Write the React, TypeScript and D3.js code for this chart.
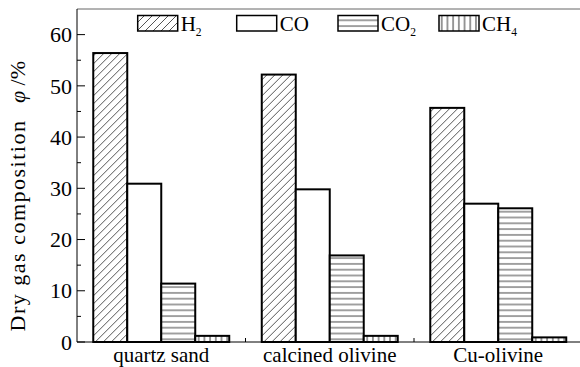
import React from "react";
import * as d3 from "d3";

const categories = ["quartz sand", "calcined olivine", "Cu-olivine"];
const seriesNames = ["H2", "CO", "CO2", "CH4"];
const h2 = [56.4, 52.2, 45.7];
const co = [30.9, 29.8, 27.0];
const co2 = [11.4, 16.9, 26.1];
const ch4 = [1.2, 1.2, 0.9];
const yTicks = [0, 10, 20, 30, 40, 50, 60];
const yMinorTicks = [5, 15, 25, 35, 45, 55];

const series = [h2, co, co2, ch4];
const fills = ["url(#diag)", "#fff", "url(#horiz)", "url(#vert)"];
const font = "Liberation Serif";

const width = 580;
const height = 367;
const left = 77;
const top = 9;
const bottom = 342;
const right = 582.5;

const App = () => {
  const x = d3.scaleBand<string>()
    .domain(categories)
    .range([left, right])
    .paddingInner(0.193)
    .paddingOuter(0.0965);

  const xInner = d3.scaleBand<string>()
    .domain(seriesNames)
    .range([0, x.bandwidth()]);

  const y = d3.scaleLinear().domain([0, 65]).range([bottom, top]);

  const gap = x.step() - x.bandwidth();
  const groupTicks = categories.slice(1).map(c => (x(c) as number) - gap / 2);

  const legendX = [137.7, 236.7, 338, 439];
  const ts = { fontFamily: font };

  // H2 -> H + subscript 2
  const label = (name: string, fs: number) => {
    const m = name.match(/^([A-Z]+?)(\d)?$/);
    const base = m ? m[1] : name;
    const sub = m && m[2];
    return (
      <>
        {base}
        {sub && <tspan fontSize={fs * 0.55} dy={5}>{sub}</tspan>}
      </>
    );
  };

  return (
    <svg width={width} height={height} style={{ position: "absolute", left: 0, top: 0 }}>
      <defs>
        <pattern id="diag" patternUnits="userSpaceOnUse" width={8} height={8}>
          <rect width={8} height={8} fill="#fff" />
          <path d="M-2,2 L2,-2 M0,8 L8,0 M6,10 L10,6" stroke="#555" strokeWidth={1} />
        </pattern>
        <pattern id="horiz" patternUnits="userSpaceOnUse" width={10} height={5.8}>
          <rect width={10} height={5.8} fill="#fff" />
          <line x1={0} x2={10} y1={2.9} y2={2.9} stroke="#444" strokeWidth={1} />
        </pattern>
        <pattern id="vert" patternUnits="userSpaceOnUse" width={5.7} height={10}>
          <rect width={5.7} height={10} fill="#fff" />
          <line x1={2.85} x2={2.85} y1={0} y2={10} stroke="#333" strokeWidth={1} />
        </pattern>
      </defs>
      <rect width={width} height={height} fill="#fff" />

      {/* bars */}
      {categories.map((c, i) => (
        <g key={c} transform={`translate(${x(c)},0)`}>
          {series.map((s, j) => (
            <rect
              key={j}
              x={xInner(seriesNames[j])}
              y={y(s[i])}
              width={xInner.bandwidth()}
              height={bottom - y(s[i])}
              fill={fills[j]}
              stroke="#000"
              strokeWidth={2}
            />
          ))}
        </g>
      ))}

      {/* frame */}
      <line x1={left} x2={width} y1={top} y2={top} stroke="#666" strokeWidth={1} />
      <line x1={left} x2={left} y1={top} y2={bottom} stroke="#000" strokeWidth={1} />
      <line x1={left} x2={width} y1={bottom} y2={bottom} stroke="#000" strokeWidth={1} />

      {/* y ticks */}
      {yTicks.map(t => (
        <g key={t}>
          <line x1={left} x2={left + 8} y1={y(t)} y2={y(t)} stroke="#000" />
          <text x={72} y={y(t)} dy="0.35em" textAnchor="end" fontSize={22} style={ts}>
            {t}
          </text>
        </g>
      ))}
      {yMinorTicks.map(t => (
        <line key={t} x1={left} x2={left + 4} y1={y(t)} y2={y(t)} stroke="#000" />
      ))}

      {/* x ticks */}
      {groupTicks.map((t, i) => (
        <line key={i} x1={t} x2={t} y1={bottom} y2={bottom - 4} stroke="#000" />
      ))}
      {categories.map(c => (
        <text
          key={c}
          x={(x(c) as number) + x.bandwidth() / 2}
          y={362}
          textAnchor="middle"
          fontSize={21}
          style={ts}
        >
          {c}
        </text>
      ))}

      {/* y label */}
      <text
        transform={`translate(25,${(118 + 333) / 2}) rotate(-90)`}
        textAnchor="middle"
        fontSize={22}
        letterSpacing={1.5}
        style={ts}
      >
        Dry gas composition
      </text>
      <text
        transform={`translate(25,82) rotate(-90)`}
        textAnchor="middle"
        fontSize={22}
        style={ts}
      >
        <tspan fontStyle="italic">φ</tspan> /%
      </text>

      {/* legend */}
      {seriesNames.map((n, j) => (
        <g key={n}>
          <rect x={legendX[j]} y={15.5} width={40} height={15.5} fill={fills[j]} stroke="#000" strokeWidth={1.5} />
          <text x={legendX[j] + 43} y={31} fontSize={21} style={ts}>
            {label(n, 21)}
          </text>
        </g>
      ))}
    </svg>
  );
};

export default App;
